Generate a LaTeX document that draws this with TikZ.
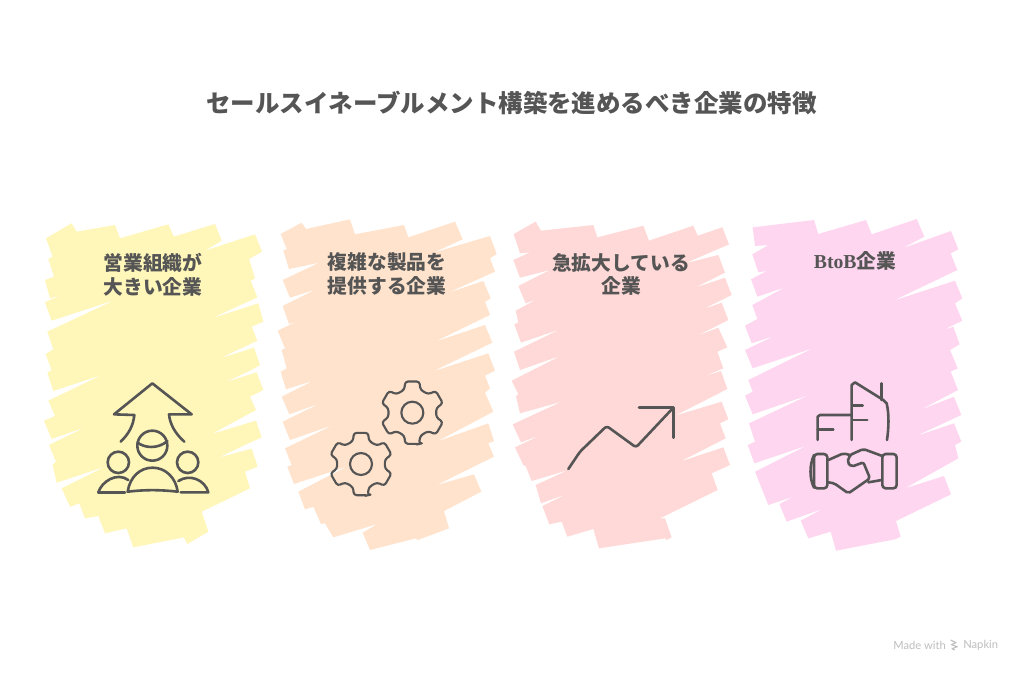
\documentclass[tikz,border=0pt]{standalone}
\usepackage{fontspec}
\setmainfont{Noto Sans CJK JP}
\newfontfamily\latinserif{Liberation Serif}
\newfontfamily\madefont{Lato}
\definecolor{ink}{HTML}{555555}
\definecolor{blobA}{HTML}{FFF6B9}
\definecolor{blobB}{HTML}{FFE3CC}
\definecolor{blobC}{HTML}{FFD9D7}
\definecolor{blobD}{HTML}{FFD6F0}
\definecolor{madegray}{HTML}{BEBEBE}
\tikzset{
  zoomat/.style 2 args={shift={(#1*0.75pt,-#2*0.75pt)},x=0.25pt,y=-0.25pt},
  sketch/.style={draw=ink,line width=1.95pt,line cap=round,line join=round},
  fine/.style={draw=ink,line width=1.6pt,line cap=round,line join=round},
  titletext/.style={text=ink,font=\bfseries\fontsize{18.35pt}{22pt}\selectfont,inner sep=0pt},
  cardtext/.style={text=ink,font=\bfseries\fontsize{14.8pt}{17.8pt}\selectfont,align=center,inner sep=0pt},
}
\newcommand{\gearicon}[2]{%
  \begin{scope}[shift={(#1,#2)}]
    \draw[fine,rounded corners=2.2pt] (78:96)
      \foreach \a in {90,150,210,270,330,30}{ -- (\a-13:96) -- (\a+13:96) -- (\a+19:73) -- (\a+41:73) }
      -- cycle;
    \draw[fine] (0,0) circle[radius=33];
  \end{scope}}
\begin{document}
\begin{tikzpicture}[x=0.75pt,y=-0.75pt]
\useasboundingbox (0,0) rectangle (1024,683);
\fill[white] (0,0) rectangle (1024,683);
% card 1
\begin{scope}[zoomat={30}{210}]
\fill[blobA] (48,85)--(125,40)--(140,65)--(255,45)--(270,85)--(415,43)--(432,80)--(555,42)--(575,92)--(525,122)--(675,73)--(696,125)--(657,147)--(675,205)--(662,212)--(682,262)--(545,325)--(685,280)--(700,335)--(665,350)--(682,392)--(570,445)--(672,413)--(690,465)--(660,482)--(585,517)--(680,487)--(700,540)--(660,560)--(678,600)--(545,672)--(678,632)--(695,682)--(655,700)--(565,743)--(665,716)--(683,770)--(645,785)--(660,835)--(515,905)--(535,965)--(472,1002)--(462,982)--(310,1012)--(290,955)--(225,970)--(205,918)--(165,925)--(148,880)--(120,890)--(95,835)--(225,770)--(80,818)--(68,765)--(78,755)--(57,705)--(165,652)--(65,687)--(42,632)--(75,618)--(55,572)--(215,495)--(70,543)--(52,488)--(65,480)--(47,432)--(70,418)--(52,365)--(255,270)--(65,332)--(45,277)--(92,255)--(60,265)--(45,210)--(72,200)--(55,147)--(68,140)--cycle;
\end{scope}
% card 2
\begin{scope}[zoomat={270}{210}]
\fill[blobB] (32,72)--(95,38)--(108,57)--(240,28)--(255,73)--(402,45)--(415,82)--(555,35)--(578,88)--(490,128)--(660,78)--(680,132)--(660,145)--(675,185)--(530,250)--(640,213)--(662,265)--(645,275)--(660,315)--(495,395)--(645,345)--(667,398)--(487,485)--(655,430)--(675,482)--(645,497)--(660,535)--(645,548)--(670,605)--(500,695)--(655,640)--(672,693)--(655,700)--(672,740)--(500,825)--(612,793)--(634,845)--(522,903)--(537,955)--(443,990)--(438,985)--(300,1020)--(278,968)--(322,942)--(190,982)--(165,940)--(153,942)--(130,890)--(105,898)--(85,845)--(230,770)--(72,822)--(52,770)--(65,765)--(45,715)--(190,645)--(60,690)--(38,635)--(150,580)--(58,613)--(35,560)--(130,512)--(48,538)--(32,485)--(50,475)--(35,420)--(45,415)--(23,362)--(85,332)--(57,342)--(38,288)--(138,238)--(60,263)--(38,210)--(148,158)--(57,177)--(40,122)--(50,117)--cycle;
\end{scope}
% card 3
\begin{scope}[zoomat={505}{210}]
\fill[blobC] (26,72)--(92,35)--(108,62)--(265,45)--(277,82)--(415,47)--(432,92)--(565,47)--(578,77)--(652,52)--(672,103)--(540,160)--(640,135)--(660,188)--(570,233)--(660,203)--(680,255)--(595,297)--(650,278)--(670,330)--(575,378)--(640,353)--(667,412)--(637,425)--(655,475)--(595,500)--(648,483)--(667,537)--(510,617)--(650,575)--(670,628)--(645,640)--(662,685)--(525,755)--(655,712)--(675,765)--(620,790)--(638,840)--(465,925)--(480,925)--(500,982)--(485,990)--(480,985)--(282,1015)--(265,957)--(187,980)--(170,935)--(133,943)--(112,888)--(185,852)--(108,880)--(92,825)--(190,780)--(80,813)--(62,768)--(55,765)--(30,712)--(108,675)--(48,697)--(23,643)--(170,575)--(45,610)--(33,558)--(40,552)--(20,512)--(168,437)--(45,480)--(27,425)--(165,358)--(48,398)--(28,343)--(40,337)--(32,302)--(95,268)--(62,280)--(40,228)--(135,180)--(45,203)--(25,150)--(75,127)--(45,130)--cycle;
\end{scope}
% card 4
\begin{scope}[zoomat={740}{210}]
\fill[blobD] (38,52)--(222,30)--(235,72)--(378,30)--(395,73)--(530,27)--(553,80)--(487,115)--(633,63)--(655,118)--(632,130)--(652,180)--(460,272)--(645,212)--(667,265)--(645,280)--(667,332)--(610,360)--(640,350)--(659,403)--(630,420)--(653,475)--(632,485)--(654,540)--(540,600)--(642,560)--(664,615)--(528,678)--(642,640)--(664,695)--(645,705)--(655,745)--(495,835)--(612,798)--(633,853)--(468,933)--(482,980)--(465,988)--(288,1022)--(272,965)--(205,985)--(182,932)--(247,897)--(140,935)--(118,882)--(160,860)--(85,885)--(45,785)--(200,707)--(43,760)--(23,705)--(45,695)--(27,640)--(207,555)--(38,613)--(15,557)--(38,545)--(25,510)--(218,415)--(38,475)--(15,420)--(103,378)--(35,400)--(15,347)--(52,327)--(37,285)--(135,232)--(52,260)--(33,208)--(80,183)--(55,187)--(37,133)--(85,105)--(45,108)--cycle;
\end{scope}
% texts
\node[titletext] (title) at (511.5,103) {セールスイネーブルメント構築を進めるべき企業の特徴};
\node[cardtext] (label1) at (153,274.5) {営業組織が\\大きい企業};
\node[cardtext] (label2) at (387,274) {複雑な製品を\\提供する企業};
\node[cardtext] (label3) at (621,274.5) {急拡大している\\企業};
\node[cardtext] (label4) at (855,261) {{\latinserif BtoB}企業};
% icon 1
\begin{scope}[zoomat={90}{375}]
\draw[sketch] (92,200) .. controls (118,175) and (130,150) .. (133,120) -- (72,118) -- (187,25) -- (305,118) -- (237,118) .. controls (240,150) and (258,178) .. (283,200);
\draw[sketch] (187,212) circle[radius=45];
\draw[sketch] (143,203) .. controls (165,220) and (205,222) .. (232,198);
\draw[sketch] (85,262) circle[radius=32];
\draw[sketch] (293,262) circle[radius=32];
\draw[sketch] (25,352) .. controls (35,320) and (80,290) .. (115,315);
\draw[sketch] (25,352) -- (105,352);
\draw[sketch] (113,350) .. controls (120,305) and (150,278) .. (188,278) .. controls (228,278) and (258,310) .. (263,350) .. controls (210,344) and (165,344) .. (113,350) -- cycle;
\draw[sketch] (265,318) .. controls (300,295) and (345,315) .. (355,352) -- (272,352);
\end{scope}
% icon 2
\begin{scope}[zoomat={325}{375}]
\gearicon{262}{113}
\gearicon{108}{267}
\end{scope}
% icon 3
\begin{scope}[zoomat={560}{395}]
\draw[sketch,rounded corners=2pt] (25,222) -- (60,170) -- (140,93) -- (228,157) -- (340,38);
\draw[sketch] (237,38) -- (340,38) -- (340,128);
\end{scope}
% icon 4
\begin{scope}[zoomat={800}{375}]
\draw[sketch] (155,195) -- (155,30) -- (165,22) -- (250,75) -- (260,85) .. controls (268,120) and (266,160) .. (261,195);
\draw[sketch] (245,25) -- (245,75);
\draw[sketch] (160,92) -- (188,92);
\draw[sketch] (160,135) -- (202,135);
\draw[sketch] (53,195) -- (53,125) -- (60,120) -- (155,120);
\draw[sketch] (53,163) -- (100,163);
\draw[sketch,rounded corners=2.5pt] (42,237) rectangle (82,340);
\draw[sketch] (42,240) .. controls (28,270) and (28,310) .. (42,338);
\draw[sketch,rounded corners=2.5pt] (247,237) rectangle (290,340);
\draw[sketch,rounded corners=1.5pt] (85,322) -- (103,325) -- (145,355) -- (210,310) -- (190,262) -- (155,275) -- (142,262) -- (150,240) -- (190,222) -- (247,243);
\draw[sketch,rounded corners=1.5pt] (85,255) -- (130,235) -- (150,240);
\draw[sketch] (205,322) -- (245,315);
\end{scope}
% footer
\node[text=madegray,font=\madefont\fontsize{8.4pt}{10pt}\selectfont,anchor=west,inner sep=0pt] (madewith) at (893,645.5) {Made with};
\node[text=madegray,font=\madefont\fontsize{8.4pt}{10pt}\selectfont,anchor=west,inner sep=0pt] (napkin) at (963,645.5) {Napkin};
\begin{scope}[zoomat={880}{630}]
\draw[madegray,line width=0.8pt,line join=round] (212,30) -- (228,38) -- (214,44) -- (232,50) -- (216,56) -- (224,60);
\end{scope}
\end{tikzpicture}
\end{document}
